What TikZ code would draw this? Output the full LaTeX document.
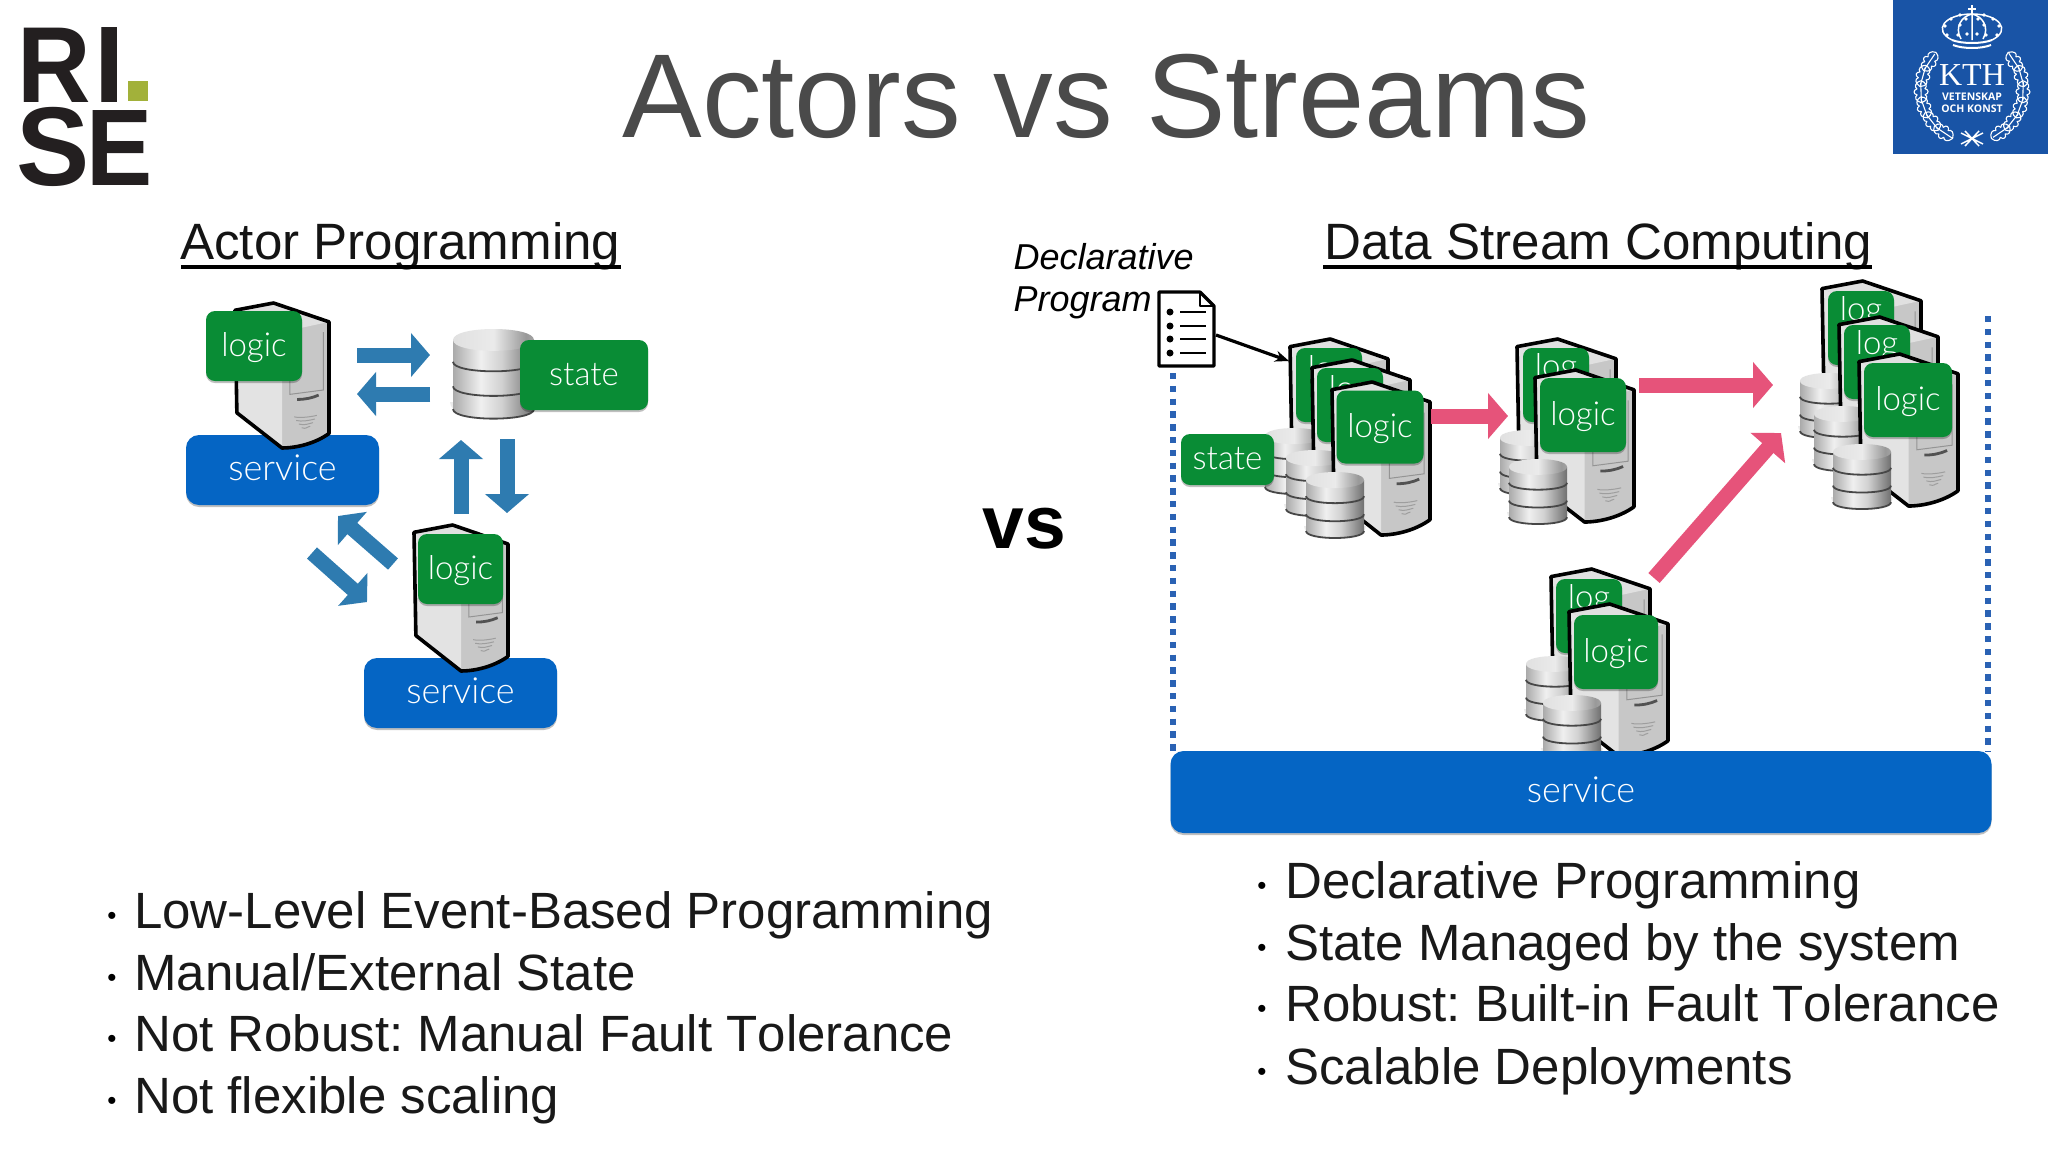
\documentclass[tikz,border=0pt]{standalone}
\usepackage{fontspec}
\usepackage{graphicx}
\setmainfont{Liberation Sans}
\newfontfamily\lightf{Lato Light}
\newfontfamily\kthserif{Liberation Serif}
\newfontfamily\kthsans{Open Sans}
\newfontfamily\nokern[Kerning=Off]{Liberation Sans}
\usetikzlibrary{arrows.meta,shadows,calc}
\definecolor{boxgreen}{HTML}{098C35}
\definecolor{svcblue}{HTML}{0565C4}
\definecolor{arrblue}{HTML}{2E7BB0}
\definecolor{pink}{HTML}{E6537A}
\definecolor{dotblue}{HTML}{2A62B4}
\definecolor{titlegray}{HTML}{4A4A4A}
\definecolor{kthblue}{HTML}{1954A6}
\definecolor{risedark}{HTML}{231F20}
\definecolor{risegreen}{HTML}{A2B13A}
\pgfdeclarehorizontalshading{silver}{100bp}{color(0bp)=(black!50);color(22bp)=(black!38);color(42bp)=(black!6);color(55bp)=(black!18);color(78bp)=(black!62);color(100bp)=(black!42)}
\pgfdeclarehorizontalshading{silvertop}{100bp}{color(0bp)=(black!38);color(25bp)=(black!12);color(50bp)=(black!8);color(70bp)=(black!40);color(100bp)=(black!18)}
\newcommand{\lowr}[1]{\raisebox{-10pt}[0pt][0pt]{#1}}
\newcommand{\svct}[1]{\raisebox{-10.5pt}[0pt][0pt]{\fontsize{36}{36}\selectfont #1}}
\tikzset{
 softshadow/.style={drop shadow={shadow xshift=0pt,shadow yshift=-2pt,opacity=.25,fill=black}},
 boxtxt/.style={font=\lightf\fontsize{33}{33}\selectfont,text=white},
 logicbox/.style={fill=boxgreen,rounded corners=9pt,inner sep=0pt,softshadow,boxtxt},
 svcbox/.style={fill=svcblue,rounded corners=13pt,inner sep=0pt,softshadow,boxtxt},
 bluearrow/.style={arrblue,line width=15pt,-{Triangle[length=19pt,width=43pt]}},
 pinkarrow/.style={pink,line width=15pt,-{Triangle[length=20pt,width=45pt]}},
 srvline/.style={line width=3.6pt,black,line join=round},
 dotline/.style={dotblue,line width=6.4pt,dash pattern=on 6.4pt off 6.4pt},
 head/.style={font=\fontsize{51.1}{51}\selectfont,anchor=base west,inner sep=0pt,text=black!92},
 bulltxt/.style={font=\nokern\fontsize{51}{51}\selectfont,anchor=base west,inner sep=0pt,text=black!90},
 bulldot/.style={font=\fontsize{26}{26}\selectfont,anchor=base,inner sep=0pt},
 ital/.style={font=\itshape\fontsize{36}{36}\selectfont,anchor=base west,inner sep=0pt},
 riseL/.style={font=\bfseries\fontsize{109}{109}\selectfont,anchor=base west,inner sep=0pt,text=risedark},
 kthw/.style={white,line width=1.1pt},
}
% server: x y w h
\newcommand{\srv}[4]{\begin{scope}[shift={(#1,#2)},xscale=#3,yscale=#4]
 \fill[black!22] (0,.05) -- (.41,0) -- (1,.13) -- (1,.9) .. controls (.85,.97) and (.65,1) .. (.5,1) -- (.02,.757) -- cycle;
 \fill[black!11] (0,.05) -- (.5,.2) -- (.5,1) -- (.02,.757) -- cycle;
 \fill[black!12] (0,.05) -- (.41,0) -- (1,.13) -- (.5,.2) -- cycle;
 \draw[black!42,line width=1pt] (.585,.21) -- (.585,.63) -- (.94,.6) -- (.94,.2);
 \draw[black!68,line width=2.8pt] (.66,.665) .. controls (.75,.665) and (.82,.655) .. (.89,.635);
 \foreach \yy/\xa/\xb in {.785/.63/.87,.81/.65/.85,.835/.68/.83,.86/.71/.8}
   \draw[black!38,line width=1pt] (\xa,\yy) .. controls (\xa+.06,\yy+.01) and (\xb-.06,\yy) .. (\xb,\yy-.01);
 \draw[srvline] (0,.05) -- (.41,0) -- (1,.13) -- (1,.9) .. controls (.85,.97) and (.65,1) .. (.5,1) -- (.02,.757) -- cycle;
\end{scope}}
% database: x y w h
\newcommand{\dbs}[4]{\begin{scope}[shift={(#1,#2)},xscale=#3,yscale=#4]
 \fill[black,opacity=.08] (-.04,.8) .. controls (-.04,1.06) and (1.04,1.06) .. (1.04,.8) -- cycle;
 \foreach \tt/\bb in {.66/.88,.39/.63,.12/.36}{
  \shade[shading=silver] (0,\tt) -- (0,\bb) .. controls (0,\bb+.14) and (1,\bb+.14) .. (1,\bb) -- (1,\tt) -- cycle;
  \draw[black!72,line width=1.8pt] (0,\bb) .. controls (0,\bb+.14) and (1,\bb+.14) .. (1,\bb);
 }
 \shade[shading=silvertop] (0,.12) .. controls (0,-.04) and (1,-.04) .. (1,.12) .. controls (1,.28) and (0,.28) .. (0,.12) -- cycle;
\end{scope}}
% oak leaf on the wreath, rotated about the wreath centre
\newcommand{\oak}[2]{\begin{scope}[rotate around={#1:(1972,90)},shift={(1961,39)},rotate=#2]
  \draw[kthw,line join=round] (0,0) .. controls (2,-6) and (6,-7) .. (8,-4) .. controls (9,-8) and (13,-8) .. (14,-4) .. controls (16,-7) and (21,-5) .. (22,0) .. controls (21,5) and (16,7) .. (14,4) .. controls (13,8) and (9,8) .. (8,4) .. controls (6,7) and (2,6) .. (0,0) -- cycle;
  \draw[kthw] (1,0) -- (20,0);
\end{scope}}
\begin{document}
\begin{tikzpicture}[x=1pt,y=-1pt]
\frenchspacing
\useasboundingbox (0,0) rectangle (2048,1152);
\fill[white] (0,0) rectangle (2048,1152);

% RISE logo
\node[riseL,font=\bfseries\fontsize{106}{106}\selectfont] (riseR) at (17,102) {\scalebox{.96}[1.02]{R}};
\node[riseL] (riseI) at (94,102) {I};
\fill[risegreen] (128,81) rectangle (148,101);
\node[riseL,font=\bfseries\fontsize{112}{112}\selectfont] (riseS) at (16,185) {\scalebox{.98}[1]{S}};
\node[riseL] (riseE) at (86,185) {\scalebox{.91}[1]{E}};

% KTH logo
\fill[kthblue] (1893,0) rectangle (2048,154);
\node[font=\kthserif\fontsize{32}{32}\selectfont,text=white,inner sep=0pt] (kth) at (1972,75) {KTH};
\node[font=\kthsans\bfseries\fontsize{10.5}{10.5}\selectfont,text=white,inner sep=0pt] (kthv) at (1972,97) {VETENSKAP};
\node[font=\kthsans\bfseries\fontsize{10.5}{10.5}\selectfont,text=white,inner sep=0pt] (ktho) at (1972,109) {OCH KONST};
\foreach \a in {56,74,92,110,128,146}{\oak{\a}{0}\oak{-\a}{0}}
\draw[white,line width=1.5pt] (1961,133) -- (1983,144) (1961,144) -- (1983,133) (1965,131) -- (1979,146) (1965,146) -- (1979,131);
% crown
\draw[white,line width=2pt] (1952,40) .. controls (1962,44) and (1982,44) .. (1992,40);
\draw[white,line width=2pt] (1953,45) .. controls (1963,49) and (1981,49) .. (1991,45);
\draw[kthw,line width=1.5pt] (1952,40) .. controls (1932,30) and (1945,14) .. (1972,14) .. controls (1999,14) and (2012,30) .. (1992,40);
\draw[kthw,line width=1.5pt] (1961,39) .. controls (1954,27) and (1962,16) .. (1972,14) .. controls (1982,16) and (1990,27) .. (1983,39) (1972,14) -- (1972,40);
\draw[white,line width=1.6pt] (1972,5) -- (1972,14) (1968,9) -- (1976,9);
\foreach \px/\py in {1947/35, 1958/35, 1967/34, 1977/34, 1986/35, 1997/35, 1945/26, 1999/26, 1951/19, 1993/19, 1960/15, 1984/15, 1960/25, 1984/25, 1966/19, 1978/19}{\fill[white] (\px,\py) circle (1.9pt);}

% Title
\node[font=\fontsize{119.3}{119}\selectfont,text=titlegray,inner sep=0pt,anchor=base] (title) at (1106.5,137) {Actors vs Streams};

% Headings
\node[head] (hActor) at (180,259) {Actor Programming};
\draw[black,line width=3.5pt] (181,267) -- (621,267);
\node[head] (hData) at (1324,259) {Data Stream Computing};
\draw[black,line width=3.5pt] (1323,267) -- (1872,267);

% Actor side
\node[svcbox,minimum width=193pt,minimum height=70pt] (svcA) at (282.5,470) {\svct{service}};
\srv{235}{303}{94}{145}
\node[logicbox,minimum width=96pt,minimum height=70pt] (logA) at (254,346) {\lowr{logic}};
\dbs{453}{329}{81}{91}
\node[logicbox,minimum width=128pt,minimum height=70pt] (stateA) at (584,375) {\lowr{state}};
\node[svcbox,minimum width=193pt,minimum height=70pt] (svcB) at (460.5,693) {\svct{service}};
\srv{414}{525}{94}{146}
\node[logicbox,minimum width=85pt,minimum height=70pt] (logB) at (460.5,569) {\lowr{logic}};

\coordinate (a1s) at (357,355); \coordinate (a1e) at (430,355);
\coordinate (a2s) at (430,394); \coordinate (a2e) at (357,394);
\coordinate (a3s) at (461,514); \coordinate (a3e) at (461,440);
\coordinate (a4s) at (507,439); \coordinate (a4e) at (507,513);
\coordinate (a5s) at (393,564); \coordinate (a5e) at (338,516);
\coordinate (a6s) at (312,553); \coordinate (a6e) at (367,602);
\draw[bluearrow] (a1s) -- (a1e);
\draw[bluearrow] (a2s) -- (a2e);
\draw[bluearrow] (a3s) -- (a3e);
\draw[bluearrow] (a4s) -- (a4e);
\draw[bluearrow] (a5s) -- (a5e);
\draw[bluearrow] (a6s) -- (a6e);

% vs
\node[font=\bfseries\fontsize{75}{75}\selectfont,inner sep=0pt,anchor=base] (vs) at (1024.5,548) {vs};

% Dotted container
\coordinate (dl1) at (1173,373); \coordinate (dl2) at (1173,752);
\coordinate (dr1) at (1988,316); \coordinate (dr2) at (1988,752);
\draw[dotline] (dl1) -- (dl2);
\draw[dotline] (dr1) -- (dr2);

% Declarative program
\node[ital] (decl1) at (1013.5,269) {Declarative};
\node[ital] (decl2) at (1013.5,311) {Program};
\draw[line width=3.2pt,line join=round,fill=white] (1159,292) -- (1200,292) -- (1214,306) -- (1214,366) -- (1159,366) -- cycle;
\draw[line width=2.2pt,line join=round] (1200,292) -- (1200,306) -- (1214,306);
\foreach \yy in {312,326,339,353}{
  \fill[black] (1170,\yy) circle (3.5pt);
  \draw[line width=2.8pt] (1180,\yy) -- (1206,\yy);
}
\coordinate (docout) at (1216,335);

% Stack 1
\srv{1290}{339}{98}{153}
\node[logicbox,minimum width=66pt,minimum height=74pt] (s1b1) at (1329,385) {};
\node[boxtxt,inner sep=0pt] (s1t1) at (1329,371) {log};
\dbs{1265}{428}{58}{67}
\srv{1312}{360}{98}{153}
\node[logicbox,minimum width=66pt,minimum height=74pt] (s1b2) at (1350,405) {};
\node[boxtxt,inner sep=0pt] (s1t2) at (1350,391) {log};
\dbs{1286}{450}{58}{67}
\srv{1332}{382}{98}{153}
\node[logicbox,minimum width=87pt,minimum height=73pt] (s1b3) at (1380,427) {\lowr{logic}};
\dbs{1306}{472}{58}{67}
\node[logicbox,minimum width=93pt,minimum height=51pt] (s1state) at (1227.5,459.5) {\lowr{state}};
\coordinate (docin) at (1289,361);
\draw[line width=3.2pt,-{Stealth[length=14pt,width=11pt]}] (docout) -- (docin);

% Stack 2
\srv{1517}{339}{99}{152}
\node[logicbox,minimum width=66pt,minimum height=74pt] (s2b1) at (1556,385) {};
\node[boxtxt,inner sep=0pt] (s2t1) at (1556,369) {log};
\dbs{1500}{430}{58}{66}
\srv{1535}{370}{99}{152}
\node[logicbox,minimum width=86pt,minimum height=74pt] (s2b2) at (1583,415) {\lowr{logic}};
\dbs{1509}{459}{58}{66}

% Stack 3
\srv{1822}{281}{99}{152}
\node[logicbox,minimum width=66pt,minimum height=74pt] (s3b1) at (1861,328) {};
\node[boxtxt,inner sep=0pt] (s3t1) at (1861,312) {log};
\dbs{1800}{373}{58}{66}
\srv{1839}{317}{99}{152}
\node[logicbox,minimum width=66pt,minimum height=74pt] (s3b2) at (1877,362) {};
\node[boxtxt,inner sep=0pt] (s3t2) at (1877,346) {log};
\dbs{1814}{406}{58}{66}
\srv{1859}{354}{99}{152}
\node[logicbox,minimum width=88pt,minimum height=74pt] (s3b3) at (1908,400) {\lowr{logic}};
\dbs{1833}{444}{58}{66}

% Stack 4
\srv{1551}{569}{99}{152}
\node[logicbox,minimum width=66pt,minimum height=74pt] (s4b1) at (1589,616) {};
\node[boxtxt,inner sep=0pt] (s4t1) at (1589,600) {log};
\dbs{1526}{656}{58}{66}
\srv{1569}{604}{99}{152}
\node[logicbox,minimum width=84pt,minimum height=74pt] (s4b2) at (1616,652) {\lowr{logic}};
\dbs{1543}{695}{58}{66}

% Big service
\node[svcbox,minimum width=821pt,minimum height=82pt] (svcBig) at (1581,792) {\svct{service}};

% Pink arrows
\coordinate (p1s) at (1431,416); \coordinate (p1e) at (1508,416);
\coordinate (p2s) at (1639,385); \coordinate (p2e) at (1773,385);
\coordinate (p3s) at (1654,578); \coordinate (p3e) at (1781,433);
\draw[pinkarrow] (p1s) -- (p1e);
\draw[pinkarrow] (p2s) -- (p2e);
\draw[pinkarrow] (p3s) -- (p3e);

% Bullets left
\foreach \n/\yy/\tx in {1/928/Low-Level Event-Based Programming,2/990/Manual\slash External State,3/1051/Not Robust: Manual Fault Tolerance,4/1113/Not flexible scaling}{
  \node[bulldot] (lb\n) at (112,\yy-4) {•};
  \node[bulltxt] (lt\n) at (134,\yy) {\tx};
}
% Bullets right
\foreach \n/\yy/\tx in {1/898/Declarative Programming,2/960/State Managed by the system,3/1021/Robust: Built-in Fault Tolerance,4/1084/Scalable Deployments}{
  \node[bulldot] (rb\n) at (1262,\yy-4) {•};
  \node[bulltxt] (rt\n) at (1285,\yy) {\tx};
}
\end{tikzpicture}
\end{document}
